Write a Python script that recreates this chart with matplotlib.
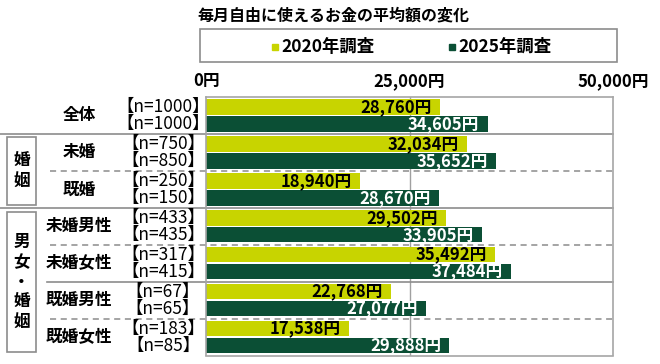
import matplotlib
matplotlib.use('Agg')
import matplotlib.pyplot as plt
from matplotlib.patches import Rectangle

plt.rcParams['font.family'] = ['Noto Sans CJK JP', 'DejaVu Sans']

categories = ['全体', '未婚', '既婚', '未婚男性', '未婚女性', '既婚男性', '既婚女性']
values_2020 = [28760, 32034, 18940, 29502, 35492, 22768, 17538]
values_2025 = [34605, 35652, 28670, 33905, 37484, 27077, 29888]
n_2020 = [1000, 750, 250, 433, 317, 67, 183]
n_2025 = [1000, 850, 150, 435, 415, 65, 85]
series = ['2020年調査', '2025年調査']
colors = ['#C8D400', '#0B4F35']
xticks = [0, 25000, 50000]
title = '毎月自由に使えるお金の平均額の変化'

W, H = 660, 364
fig = plt.figure(figsize=(W / 100, H / 100), dpi=100)
ax = fig.add_axes([206 / W, 1 - 355.5 / H, 407 / W, (355.5 - 97) / H])

ys1 = [i + 0.27 for i in range(len(categories))]
ys2 = [i + 0.73 for i in range(len(categories))]
ax.barh(ys1, values_2020, height=0.42, color=colors[0], zorder=2)
ax.barh(ys2, values_2025, height=0.42, color=colors[1], zorder=2)

for y, v in zip(ys1, values_2020):
    ax.annotate(f'{v:,}円', (v, y), xytext=(-6, 0), textcoords='offset points',
                ha='right', va='center', fontsize=12, fontweight='bold', color='black', zorder=3)
for y, v in zip(ys2, values_2025):
    ax.annotate(f'{v:,}円', (v, y), xytext=(-6, 0), textcoords='offset points',
                ha='right', va='center', fontsize=12, fontweight='bold', color='white', zorder=3)

ax.set_xlim(0, 50000)
ax.set_ylim(len(categories), 0)
ax.set_yticks([])
ax.xaxis.tick_top()
ax.set_xticks(xticks)
ax.set_xticklabels([f'{t:,}円' for t in xticks], fontsize=12, fontweight='bold')
ax.tick_params(axis='x', length=0, pad=5)
ax.axvline(25000, color='#A0A0A0', lw=1, zorder=1)
for s in ax.spines.values():
    s.set_color('#A6A6A6')
    s.set_linewidth(1.2)

# left side labels (x in axes fraction, y in data)
tr = ax.get_yaxis_transform()
def px(p):
    return (p - 206) / 407

for i, c in enumerate(categories):
    ax.text(px(79), i + 0.5, c, transform=tr, ha='center', va='center',
            fontsize=12, fontweight='bold')
    ax.text(px(163), ys1[i], f'【n={n_2020[i]}】', transform=tr, ha='center', va='center', fontsize=12.5)
    ax.text(px(163), ys2[i], f'【n={n_2025[i]}】', transform=tr, ha='center', va='center', fontsize=12.5)

# separators
for y, x0 in [(1, 0), (3, 0), (5, 47)]:
    ax.plot([px(x0), 1], [y, y], transform=tr, color='#8C8C8C', lw=1.2, clip_on=False, zorder=1)
for y in [2, 4, 6]:
    ax.plot([px(50), 1], [y, y], transform=tr, color='#8C8C8C', lw=1.1, ls=(0, (4, 3)),
            clip_on=False, zorder=1)

# group boxes
for y0, y1, label in [(1.08, 2.92, '婚姻'), (3.11, 6.9, '男女・婚姻')]:
    ax.add_patch(Rectangle((px(7), y0), px(36) - px(7), y1 - y0, transform=tr, fill=False,
                           ec='#8C8C8C', lw=1.2, clip_on=False))
    ax.text(px(21.5), (y0 + y1) / 2, '\n'.join(label), transform=tr, ha='center', va='center',
            fontsize=12, fontweight='bold', linespacing=1.15)

# title and legend
fig.text(197 / W, 1 - 15 / H, title, ha='left', va='center', fontsize=11.5, fontweight='bold')
fig.patches.append(Rectangle((200 / W, 1 - 62 / H), 417 / W, 33 / H, transform=fig.transFigure,
                             fill=False, ec='#8C8C8C', lw=1.2))
for xm, col, lab in zip([272, 449], colors, series):
    fig.patches.append(Rectangle((xm / W, 1 - 50 / H), 6 / W, 6 / H, transform=fig.transFigure,
                                 color=col))
    fig.text((xm + 9) / W, 1 - 47 / H, lab, ha='left', va='center', fontsize=12.5, fontweight='bold')

fig.savefig('out.png', dpi=100)
